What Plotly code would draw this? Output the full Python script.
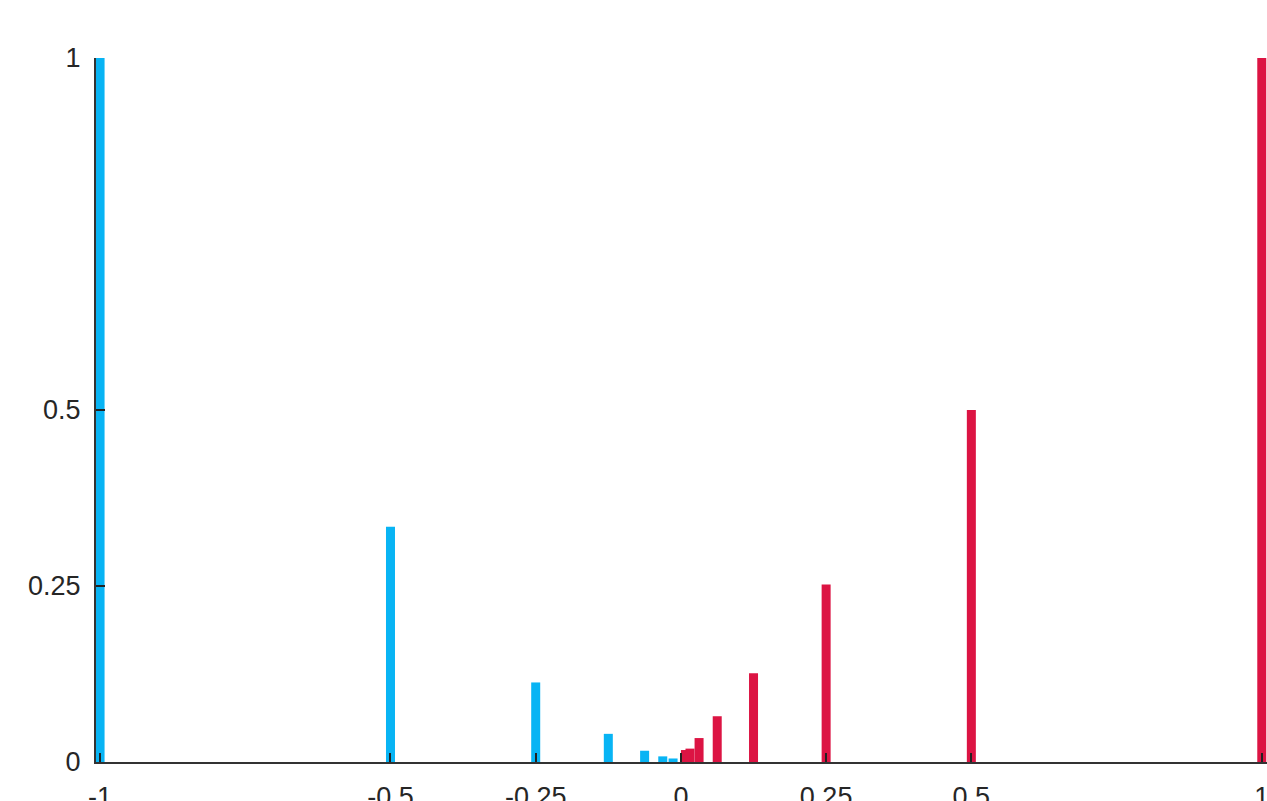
import plotly.graph_objects as go

# Data
blue_x = [-1, -0.5, -0.25, -0.125, -0.0625, -0.03125, -0.0135]
blue_y = [1.0, 0.334, 0.113, 0.040, 0.016, 0.008, 0.005]
red_x = [1, 0.5, 0.25, 0.125, 0.0625, 0.03125, 0.015625, 0.0078125]
red_y = [1.0, 0.5, 0.252, 0.126, 0.065, 0.034, 0.019, 0.017]
x_ticks = [-1, -0.5, -0.25, 0, 0.25, 0.5, 1]
x_labels = ["-1", "-0.5", "-0.25", "0", "0.25", "0.5", "1"]
y_ticks = [0, 0.25, 0.5, 1]
y_labels = ["0", "0.25", "0.5", "1"]

BLUE = "#08B4F4"
RED = "#DC1443"
BAR_W = 0.0155

fig = go.Figure()
fig.add_trace(go.Bar(x=blue_x, y=blue_y, width=[BAR_W] * len(blue_x),
                     marker=dict(color=BLUE, line=dict(width=0)), showlegend=False))
fig.add_trace(go.Bar(x=red_x, y=red_y, width=[BAR_W] * len(red_x),
                     marker=dict(color=RED, line=dict(width=0)), showlegend=False))

axis_font = dict(family="Liberation Sans, Arial, sans-serif", size=27, color="#262626")

fig.update_layout(
    width=1267, height=801,
    margin=dict(l=96, r=0, t=58, b=39, pad=0, autoexpand=False),
    paper_bgcolor="white", plot_bgcolor="white",
    barmode="overlay",
    xaxis=dict(range=[-1.007, 1.009], tickvals=x_ticks, ticktext=x_labels,
               showgrid=False, zeroline=False, showline=True, linecolor="#333333",
               linewidth=2, ticks="inside", ticklen=9, tickwidth=1.5, tickcolor="#222222",
               tickfont=axis_font, ticklabelstandoff=10, automargin=False,
               ticklabeloverflow="allow"),
    yaxis=dict(range=[0, 1], tickvals=y_ticks, ticktext=y_labels,
               showgrid=False, zeroline=False, showline=True, linecolor="#333333",
               linewidth=2, ticks="inside", ticklen=9, tickwidth=1.5, tickcolor="#222222",
               tickfont=axis_font, ticklabelstandoff=8, automargin=False,
               ticklabeloverflow="allow"),
)

fig.write_html(
    "out.html",
    config={"displayModeBar": False},
    post_script="document.body.style.margin='0';document.body.style.overflow='hidden';",
)
